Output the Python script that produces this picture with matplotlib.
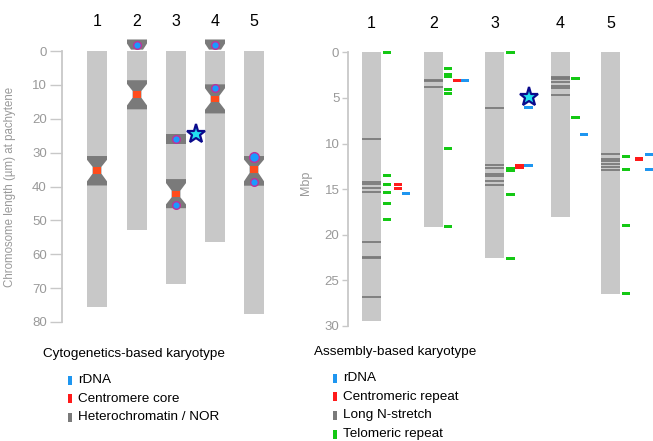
import matplotlib
matplotlib.use("Agg")
import matplotlib.pyplot as plt
from matplotlib.patches import Rectangle, Polygon

plt.rcParams['font.family'] = ['Liberation Sans', 'DejaVu Sans']

# ---------------------------------------------------------------------------
# data: cytogenetics-based karyotype (um at pachytene)
# ---------------------------------------------------------------------------
chroms = ["1", "2", "3", "4", "5"]
cyto_len = [75.7, 52.7, 68.9, 56.3, 77.5]
cyto_het = [(31.0, 39.7), (8.6, 17.3), (37.8, 46.4), (9.8, 18.5), (31.0, 39.8)]
cyto_cen = [35.2, 12.8, 42.2, 14.2, 35.0]
cyto_knob = {"2": (-3.4, -0.4), "4": (-3.4, -0.4)}
cyto_band = {"3": (24.5, 27.5)}
cyto_rdna = [("2", -1.8), ("3", 26.0), ("3", 45.5), ("4", -1.8), ("4", 10.8),
             ("5", 31.2), ("5", 38.6)]
cyto_star = 24.4

# ---------------------------------------------------------------------------
# data: assembly-based karyotype (Mbp)
# ---------------------------------------------------------------------------
asm_len = [29.4, 19.15, 22.6, 18.05, 26.45]
asm_nstretch = [[9.46, 14.2, 14.4, 14.85, 15.3, 20.75, 22.4, 22.6, 26.8],
                [3.0, 3.15, 3.8],
                [6.07, 12.4, 12.7, 13.3, 13.6, 14.1, 14.5],
                [2.67, 2.8, 2.96, 3.25, 3.65, 3.95, 4.68],
                [11.15, 11.7, 11.95, 12.25, 12.55, 12.9]]
asm_telo = [[0.0, 13.5, 14.45, 15.35, 16.55, 18.3],
            [1.75, 2.45, 2.6, 4.05, 4.5, 10.5, 19.07],
            [0.0, 12.7, 12.95, 15.55, 22.6],
            [2.85, 7.12],
            [11.4, 12.82, 18.96, 26.4]]
asm_cen = [[14.45, 14.9], [3.07], [12.4, 12.65], [], [11.6, 11.75]]
asm_rdna = [[15.45], [3.07], [6.03, 12.45], [9.0], [11.18, 12.82]]
asm_star = 4.86

# ---------------------------------------------------------------------------
# layout (pixel based)
# ---------------------------------------------------------------------------
W, H = 653, 441
left_x = [97, 137, 176, 215, 254]
right_x = [371.5, 433.5, 494.5, 560.5, 610.5]
telo_off = [15.5, 14.5, 16, 15, 15.5]
cen_off = [26.5, 23.5, 25, 0, 28.5]
rdna_off = [34.5, 31.5, 34, 23.5, 38.5]

LIGHT = "#c8c8c8"
DARK = "#7a7a7a"
RED_L = "#ff4c1c"
RED = "#ff1a1a"
BLUE = "#1e96f0"
GREEN = "#14c814"
TICK = "#c8c8c8"
TXT = "#999999"

fig = plt.figure(figsize=(W / 100, H / 100), dpi=100)


def frac(x, y):
    return x / W, 1 - y / H


def style_axis(ax, ymax, length):
    for s in ["top", "right", "bottom"]:
        ax.spines[s].set_visible(False)
    ax.spines["left"].set_color(TICK)
    ax.spines["left"].set_linewidth(1.3)
    ax.spines["left"].set_bounds(0, ymax)
    ax.set_xticks([])
    ax.tick_params(axis="y", direction="out", length=length, width=1,
                   color=TICK, labelcolor=TXT, labelsize=9.5, pad=2)


# ---------------------------------------------------------------------------
# left panel
# ---------------------------------------------------------------------------
axl = fig.add_axes([62 / W, 1 - 322 / H, (300 - 62) / W, (322 - 10) / H])
axl.set_xlim(62, 300)
axl.set_ylim(80, (10 - 51) / 3.3875)
style_axis(axl, 80, 9)
axl.set_yticks(range(0, 81, 10))
axl.set_ylabel("Chromosome length (µm) at pachytene", color=TXT, fontsize=8.3)
axl.yaxis.set_label_coords((15.7 - 62) / 238, (322 - 187) / 312)

cw = 20
for i, c in enumerate(chroms):
    xc = left_x[i]
    a, b = cyto_het[i]
    cen = cyto_cen[i]
    # light parts
    segs = [(0, a), (b, cyto_len[i])]
    if c in cyto_band:
        ba, bb = cyto_band[c]
        segs = [(0, ba), (bb, a), (b, cyto_len[i])]
        axl.add_patch(Rectangle((xc - cw / 2, ba), cw, bb - ba, color=DARK, lw=0))
    for s0, s1 in segs:
        axl.add_patch(Rectangle((xc - cw / 2, s0), cw, s1 - s0, color=LIGHT, lw=0))
    # hourglass heterochromatin with centromere core
    w, n = cw / 2, cw * 0.22
    t1 = a + (cen - 1 - a) * 0.35
    t2 = b - (b - cen - 1) * 0.35
    pts = [(xc - w, a), (xc + w, a), (xc + w, t1), (xc + n, cen - 1), (xc + n, cen + 1),
           (xc + w, t2), (xc + w, b), (xc - w, b), (xc - w, t2), (xc - n, cen + 1),
           (xc - n, cen - 1), (xc - w, t1)]
    axl.add_patch(Polygon(pts, closed=True, color=DARK, lw=0))
    axl.add_patch(Rectangle((xc - n, cen - 1), 2 * n, 2, color=RED_L, lw=0))
    # top knob
    if c in cyto_knob:
        k0, k1 = cyto_knob[c]
        km = k0 + (k1 - k0) * 0.4
        pts = [(xc - w, k0), (xc + w, k0), (xc + w, km), (xc + w * 0.6, k1),
               (xc - w * 0.6, k1), (xc - w, km)]
        axl.add_patch(Polygon(pts, closed=True, color=DARK, lw=0))
    axl.text(xc, (22 - 51) / 3.3875, c, ha="center", va="center", fontsize=11.5)

for c, pos in cyto_rdna:
    i = chroms.index(c)
    size = 7 if (c == "5" and pos < 35) else 5.5
    axl.plot(left_x[i], pos, "o", ms=size, mfc="#1a9bff", mec="#c0309a", mew=1)

axl.plot(196, cyto_star, marker="*", ms=14, mfc="#22e0f0", mec="#0a0a8c", mew=1.6)

# ---------------------------------------------------------------------------
# right panel
# ---------------------------------------------------------------------------
PX = 9.123
axr = fig.add_axes([347.7 / W, 1 - 326 / H, (W - 347.7) / W, (326 - 10) / H])
axr.set_xlim(347.7, W)
axr.set_ylim(30, (10 - 52.3) / PX)
style_axis(axr, 30, 4)
axr.set_yticks(range(0, 31, 5))
axr.set_ylabel("Mbp", color=TXT, fontsize=9)
axr.yaxis.set_label_coords((312 - 347.7) / 305.3, (326 - 183) / 316)

cw = 19
bw = 8.5
for i, c in enumerate(chroms):
    xc = right_x[i]
    axr.add_patch(Rectangle((xc - cw / 2, 0), cw, asm_len[i], color=LIGHT, lw=0))
    for p in asm_nstretch[i]:
        axr.add_patch(Rectangle((xc - cw / 2, p - 0.11), cw, 0.22, color=DARK, lw=0, alpha=0.9))
    for p in asm_telo[i]:
        axr.add_patch(Rectangle((xc + telo_off[i] - bw / 2, p - 0.17), bw, 0.34, color=GREEN, lw=0))
    for p in asm_cen[i]:
        axr.add_patch(Rectangle((xc + cen_off[i] - bw / 2, p - 0.17), bw, 0.34, color=RED, lw=0))
    for p in asm_rdna[i]:
        axr.add_patch(Rectangle((xc + rdna_off[i] - bw / 2, p - 0.17), bw, 0.34, color=BLUE, lw=0))
    axr.text(xc, (23 - 52.3) / PX, c, ha="center", va="center", fontsize=11.5)

axr.plot(529, asm_star, marker="*", ms=14, mfc="#22e0f0", mec="#0a0a8c", mew=1.6)

# ---------------------------------------------------------------------------
# titles and legends
# ---------------------------------------------------------------------------
fig.text(*frac(134, 354), "Cytogenetics-based karyotype", ha="center", va="center", fontsize=9.7)
fig.text(*frac(395, 352), "Assembly-based karyotype", ha="center", va="center", fontsize=9.7)


def legend(x, y0, dy, items):
    for k, (col, lab) in enumerate(items):
        y = y0 + k * dy
        fx, fy = frac(x, y + 4.5)
        fig.add_artist(Rectangle((fx, fy), 4 / W, 9 / H, color=col, lw=0,
                                 transform=fig.transFigure))
        fig.text(*frac(x + 10, y), lab, ha="left", va="center", fontsize=9.7)


legend(68, 380, 18.5, [(BLUE, "rDNA"), (RED, "Centromere core"), (DARK, "Heterochromatin / NOR")])
legend(333, 378, 18.7, [(BLUE, "rDNA"), (RED, "Centromeric repeat"), (DARK, "Long N-stretch"),
                        (GREEN, "Telomeric repeat")])

fig.savefig("out.png", dpi=100)
